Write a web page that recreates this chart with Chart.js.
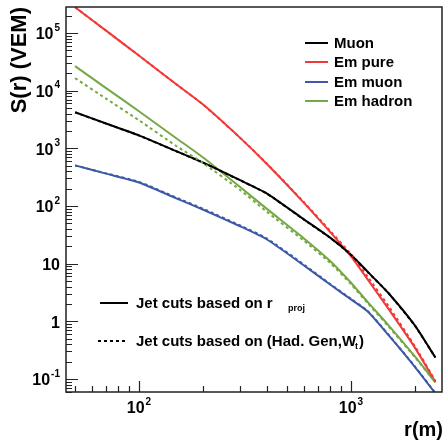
<!DOCTYPE html>
<html>
<head>
<meta charset="utf-8">
<script src="https://cdn.jsdelivr.net/npm/chart.js@4/dist/chart.umd.min.js"></script>
<style>
  html, body { margin: 0; padding: 0; background: #fff; }
  #wrap { width: 445px; height: 441px; }
</style>
</head>
<body>
<div id="wrap"><canvas id="c" width="445" height="441"></canvas></div>
<script>
// distances from the shower axis (m)
const radius = [50, 70, 100, 150, 200, 300, 400, 600, 800, 1000, 1200, 1500, 2000, 2500];

// jet cuts based on r_proj (solid)
const muonProj = [4230, 2700, 1680, 893, 570, 280, 166, 58.6, 28, 14.3, 7.2, 3.1, 0.85, 0.235];
const emPureProj = [2.8e5, 1.1e5, 4.07e4, 1.29e4, 5800, 1520, 540, 113, 34.8, 13.4, 5.3, 1.66, 0.35, 0.089];
const emMuonProj = [506, 364, 256, 136, 87, 44.5, 26.5, 9.3, 4.3, 2.4, 1.48, 0.58, 0.162, 0.056];
const emHadronProj = [2.67e4, 1.11e4, 4400, 1500, 700, 213, 90, 27.4, 11, 4.66, 2.15, 0.86, 0.246, 0.087];

// jet cuts based on (Had. Gen, W_t) (dotted)
const muonHad = [4200, 2690, 1670, 890, 568, 279, 165, 58, 27.8, 14.2, 7.1, 3.1, 0.84, 0.235];
const emPureHad = [2.8e5, 1.1e5, 4.07e4, 1.29e4, 5800, 1530, 548, 116, 36.5, 14.5, 5.9, 1.85, 0.37, 0.092];
const emMuonHad = [506, 368, 262, 140, 90, 46, 27.5, 9.6, 4.4, 2.45, 1.5, 0.59, 0.165, 0.057];
const emHadronHad = [1.65e4, 7280, 3070, 1100, 560, 190, 80, 25, 10.2, 4.4, 2.05, 0.82, 0.24, 0.087];

const seriesNames = ["Muon", "Em pure", "Em muon", "Em hadron"];
const seriesColors = ["#000000", "#f03a3a", "#3d5aa8", "#74a845"];

// axis ticks: [value, base, exponent]
const xTicks = [[100, "10", "2"], [1000, "10", "3"]];
const yTicks = [[0.1, "10", "-1"], [1, "1", ""], [10, "10", ""], [100, "10", "2"],
  [1e3, "10", "3"], [1e4, "10", "4"], [1e5, "10", "5"]];

const xRange = [45.3, 2686];
const yRange = [0.0594, 2.83e5];

const FONT = "'Liberation Sans', Arial, Helvetica, sans-serif";

function pts(ys) {
  return radius.map((r, i) => ({ x: r, y: ys[i] }));
}

function makeSet(label, ys, color, dotted) {
  return {
    label: label,
    data: pts(ys),
    borderColor: color,
    borderWidth: 2,
    borderDash: dotted ? [3, 3] : [],
    pointRadius: 0,
    tension: 0.2,
    fill: false,
    clip: 0,
  };
}

function drawPow(ctx, base, exp, x, y, align) {
  ctx.font = "bold 16px " + FONT;
  const wb = ctx.measureText(base).width;
  ctx.font = "bold 10px " + FONT;
  const we = exp ? ctx.measureText(exp).width + 1 : 0;
  let x0 = x;
  if (align === "right") x0 = x - wb - we;
  else if (align === "center") x0 = x - (wb + we) / 2;
  ctx.textAlign = "left";
  ctx.textBaseline = "middle";
  ctx.font = "bold 16px " + FONT;
  ctx.fillText(base, x0, y);
  if (exp) {
    ctx.font = "bold 10px " + FONT;
    ctx.fillText(exp, x0 + wb + 1, y - 7);
  }
}

function minorValues(lo, hi) {
  const out = [];
  for (let d = Math.floor(Math.log10(lo)); d <= Math.ceil(Math.log10(hi)); d++) {
    for (let m = 2; m <= 9; m++) {
      const v = m * Math.pow(10, d);
      if (v > lo && v < hi) out.push(v);
    }
  }
  return out;
}

const framePlugin = {
  id: "frame",
  afterDraw(chart) {
    const ctx = chart.ctx;
    const a = chart.chartArea;
    const xs = chart.scales.x;
    const ys = chart.scales.y;
    ctx.save();
    ctx.strokeStyle = "#222";
    ctx.fillStyle = "#000";

    // frame
    ctx.lineWidth = 1.5;
    ctx.strokeRect(a.left, a.top, a.right - a.left, a.bottom - a.top);

    // ticks
    ctx.lineWidth = 1.2;
    ctx.beginPath();
    yTicks.forEach((t) => {
      const p = Math.round(ys.getPixelForValue(t[0])) + 0.5;
      ctx.moveTo(a.left, p);
      ctx.lineTo(a.left + 12, p);
    });
    minorValues(yRange[0], yRange[1]).forEach((v) => {
      const p = Math.round(ys.getPixelForValue(v)) + 0.5;
      ctx.moveTo(a.left, p);
      ctx.lineTo(a.left + 6, p);
    });
    xTicks.forEach((t) => {
      const p = Math.round(xs.getPixelForValue(t[0])) + 0.5;
      ctx.moveTo(p, a.bottom);
      ctx.lineTo(p, a.bottom - 11);
    });
    minorValues(xRange[0], xRange[1]).forEach((v) => {
      const p = Math.round(xs.getPixelForValue(v)) + 0.5;
      ctx.moveTo(p, a.bottom);
      ctx.lineTo(p, a.bottom - 6);
    });
    ctx.stroke();

    // tick labels
    yTicks.forEach((t) => {
      drawPow(ctx, t[1], t[2], a.left - 6, ys.getPixelForValue(t[0]) + 2, "right");
    });
    xTicks.forEach((t) => {
      drawPow(ctx, t[1], t[2], xs.getPixelForValue(t[0]), a.bottom + 17, "center");
    });

    // axis titles
    ctx.font = "bold 20px " + FONT;
    ctx.textBaseline = "middle";
    ctx.textAlign = "right";
    ctx.fillText("r(m)", a.right + 1, 430);
    ctx.save();
    ctx.font = "bold 22px " + FONT;
    ctx.translate(20, a.top);
    ctx.rotate(-Math.PI / 2);
    ctx.textAlign = "right";
    ctx.fillText("S(r) (VEM)", 0, 0);
    ctx.restore();

    // series legend
    const rowsY = [43, 62, 82, 101];
    seriesNames.forEach((name, i) => {
      ctx.strokeStyle = seriesColors[i];
      ctx.lineWidth = 2;
      ctx.beginPath();
      ctx.moveTo(305, rowsY[i]);
      ctx.lineTo(328, rowsY[i]);
      ctx.stroke();
      ctx.fillStyle = "#000";
      ctx.font = "bold 15px " + FONT;
      ctx.textAlign = "left";
      ctx.textBaseline = "middle";
      ctx.fillText(name, 334, rowsY[i] + 1);
    });

    // cut legend
    ctx.strokeStyle = "#000";
    ctx.lineWidth = 2;
    ctx.beginPath();
    ctx.moveTo(100, 303);
    ctx.lineTo(128, 303);
    ctx.stroke();
    ctx.setLineDash([3, 3]);
    ctx.beginPath();
    ctx.moveTo(98, 341);
    ctx.lineTo(128, 341);
    ctx.stroke();
    ctx.setLineDash([]);

    ctx.font = "bold 15px " + FONT;
    ctx.textAlign = "left";
    ctx.fillText("Jet cuts based on r", 136, 304);
    ctx.font = "bold 9px " + FONT;
    ctx.fillText("proj", 288, 309);
    ctx.font = "bold 15px " + FONT;
    const s1 = "Jet cuts based on (Had. Gen,W";
    ctx.fillText(s1, 136, 342);
    const w1 = ctx.measureText(s1).width;
    ctx.font = "bold 9px " + FONT;
    ctx.fillText("t", 136 + w1 - 1, 347);
    ctx.font = "bold 15px " + FONT;
    ctx.fillText(")", 136 + w1 + 3, 342);

    ctx.restore();
  },
};

new Chart(document.getElementById("c"), {
  type: "line",
  data: {
    datasets: [
      makeSet("Muon (Had. Gen)", muonHad, seriesColors[0], true),
      makeSet("Em pure (Had. Gen)", emPureHad, seriesColors[1], true),
      makeSet("Em muon (Had. Gen)", emMuonHad, seriesColors[2], true),
      makeSet("Em hadron (Had. Gen)", emHadronHad, seriesColors[3], true),
      makeSet("Muon", muonProj, seriesColors[0], false),
      makeSet("Em pure", emPureProj, seriesColors[1], false),
      makeSet("Em muon", emMuonProj, seriesColors[2], false),
      makeSet("Em hadron", emHadronProj, seriesColors[3], false),
    ],
  },
  options: {
    responsive: false,
    animation: false,
    layout: { padding: { left: 66, top: 7, right: 3, bottom: 49 } },
    plugins: { legend: { display: false }, tooltip: { enabled: false } },
    scales: {
      x: { type: "logarithmic", min: xRange[0], max: xRange[1], display: false },
      y: { type: "logarithmic", min: yRange[0], max: yRange[1], display: false },
    },
  },
  plugins: [framePlugin],
});
</script>
</body>
</html>
